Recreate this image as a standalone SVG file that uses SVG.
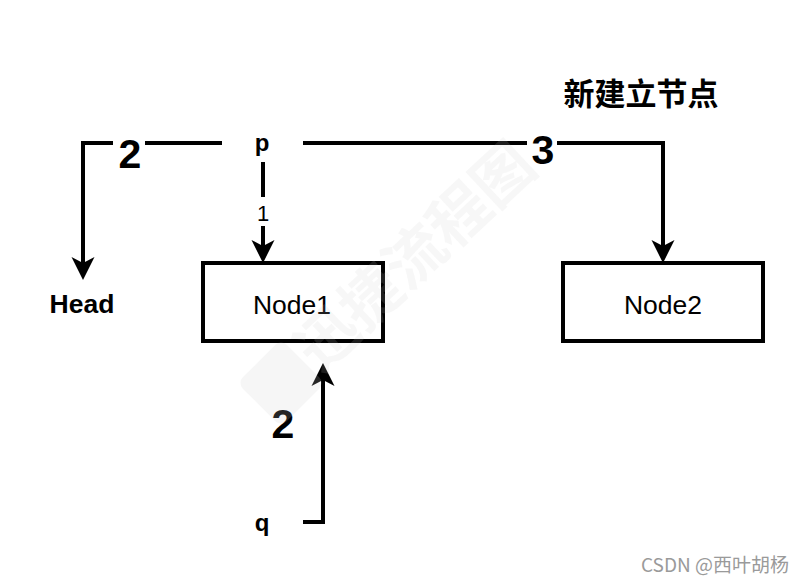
<svg xmlns="http://www.w3.org/2000/svg" width="804" height="584" viewBox="0 0 804 584">
  <style>
    .box { fill: #ffffff; stroke: #000000; stroke-width: 4; }
    .edge { fill: none; stroke: #000000; stroke-width: 4; marker-end: url(#arrow); }
    .lblbg { fill: #ffffff; stroke: none; }
    .node-text { font-family: "Liberation Sans", Arial, sans-serif; font-size: 26.5px; fill: #000000; text-anchor: middle; }
    .var { font-family: "Liberation Sans", Arial, sans-serif; font-size: 24px; font-weight: bold; fill: #000000; text-anchor: middle; }
    .head { font-size: 26.5px; }
    .step { font-family: "Liberation Sans", Arial, sans-serif; font-size: 41px; font-weight: bold; fill: #000000; text-anchor: middle; }
    .small { font-family: "Liberation Sans", Arial, sans-serif; font-size: 22px; fill: #000000; text-anchor: middle; }
    .title { font-family: "Noto Sans CJK SC", "Noto Sans", sans-serif; font-size: 31px; font-weight: bold; fill: #000000; text-anchor: middle; }
    .wm { font-family: "Noto Sans CJK SC", sans-serif; font-size: 60px; font-weight: bold; fill: #cccccc; fill-opacity: 0.15; text-anchor: middle; }
    .csdn { font-family: "Noto Sans CJK SC", "Noto Sans", sans-serif; font-size: 19px; fill: #9a9a9a; text-anchor: end; }
  </style>
  <defs>
    <marker id="arrow" viewBox="-24 -12 25 24" markerWidth="25" markerHeight="24" refX="-8" refY="0" orient="auto" markerUnits="userSpaceOnUse">
      <path d="M0,0 L-23,-11.5 L-17,0 L-23,11.5 Z" fill="#000000"/>
    </marker>
  </defs>
  <rect x="0" y="0" width="804" height="584" fill="#ffffff"/>

  <g id="connectors">
    <path id="edge-p-head" class="edge" d="M222,143 L83,143 L83,272"/>
    <path id="edge-p-node1" class="edge" d="M263,162 L263,255"/>
    <path id="edge-p-node2" class="edge" d="M303,143 L663,143 L663,255"/>
    <path id="edge-q-node1" class="edge" d="M303,522 L323,522 L323,371"/>
    <rect class="lblbg" x="113" y="136" width="32" height="14"/>
    <text class="step" x="130" y="168">2</text>
    <rect class="lblbg" x="254" y="197" width="18" height="29"/>
    <text class="small" x="263" y="221">1</text>
    <rect class="lblbg" x="527" y="136" width="30" height="14"/>
    <text class="step" x="543" y="164">3</text>
    <text class="step" x="283" y="438">2</text>
  </g>

  <g id="node-head">
    <text class="var head" x="82" y="313">Head</text>
  </g>
  <g id="node-p">
    <text class="var" x="262" y="151">p</text>
  </g>
  <g id="node-q">
    <text class="var" x="262" y="531">q</text>
  </g>
  <g id="node1">
    <rect class="box" x="203" y="263" width="180" height="78"/>
    <text class="node-text" x="292" y="314">Node1</text>
  </g>
  <g id="node2">
    <rect class="box" x="563" y="263" width="200" height="78"/>
    <text class="node-text" x="663" y="314">Node2</text>
  </g>
  <g id="label-title">
    <text class="title" x="641" y="105">新建立节点</text>
  </g>

  <g id="watermark">
    <rect x="250" y="352" width="62" height="62" rx="8" transform="rotate(45 281 383)" fill="#cccccc" fill-opacity="0.18"/>
    <text class="wm" x="414" y="278" transform="rotate(-43 414 255)">迅捷流程图</text>
    <text class="csdn" x="789" y="572">CSDN @西叶胡杨</text>
  </g>
</svg>
